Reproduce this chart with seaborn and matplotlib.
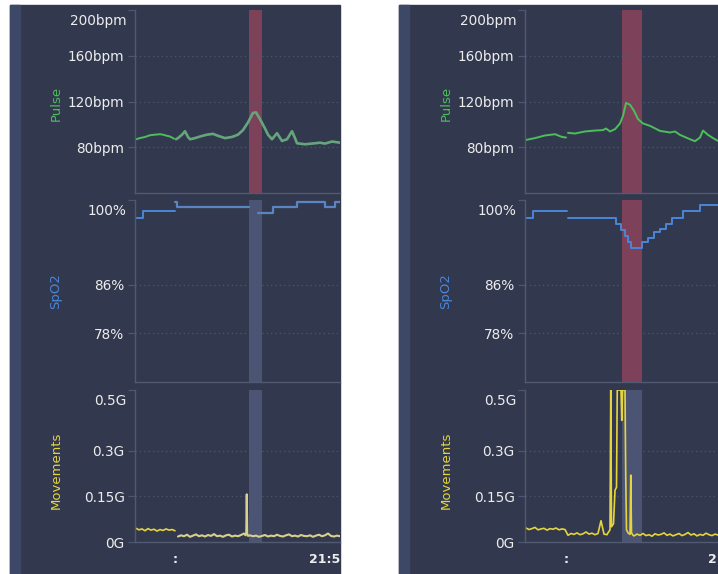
import numpy as np
import pandas as pd
import seaborn as sns
import matplotlib.pyplot as plt
from matplotlib.patches import Rectangle

sns.set_theme(style='dark')
plt.rcParams['font.family'] = 'DejaVu Sans'

# couleurs de l'appli
BG = '#32394e'
STRIP = '#3d4866'
SPINE = '#525a71'
GRID = '#4f5770'
TXT = '#ededed'
GREEN = '#4cbe5a'
GREEN_DIM = '#66a57c'
BLUE = '#4a86d8'
BLUE_DIM = '#5a84c2'
YELLOW = '#e6d43c'
YELLOW_DIM = '#d8d18e'
RED_BAND = '#7d4259'
GRAY_BAND = '#4b5472'

# temps en secondes depuis le bord gauche de chaque graphe
# ---- capture de gauche ----
pulse_l_t = [4, 20, 40, 60, 80, 100, 112, 128, 140, 156, 164, 172, 188, 200, 212,
             220, 240, 260, 288, 312, 332, 360, 388, 412, 432, 452, 472, 484, 500, 520,
             532, 548, 568, 588, 608, 628, 640, 648, 680, 720, 740, 760, 788, 820]
pulse_l_v = [87, 88, 89, 90.5, 91, 91.4, 91, 90, 89.4, 87.5, 87, 88, 91, 94, 89,
             87, 88, 89.4, 91, 91.7, 90, 88, 89, 91, 95, 101.7, 110, 110.5, 104.6, 96.4,
             91, 87, 92.3, 85.5, 87, 94, 88, 83.5, 82.6, 83.5, 84, 83.2, 85, 84]

spo2_l_t = [4, 32, 160, 166, 456, 492, 552, 648, 760, 800, 820]
spo2_l_v = [97.1, 98.2, 99.7, 98.8, np.nan, 97.8, 98.8, 99.6, 98.9, 99.6, 99.6]

mov_l_pre = [0.045, 0.040, 0.043, 0.037, 0.044, 0.039, 0.042, 0.036, 0.041, 0.038,
             0.043, 0.039, 0.041, 0.037,
             0.018, 0.022, 0.019, 0.024, 0.017, 0.021, 0.025, 0.019, 0.022, 0.018,
             0.023, 0.020, 0.026, 0.019, 0.021, 0.017, 0.022, 0.024, 0.018, 0.021,
             0.019, 0.023, 0.028]
mov_l_burst_t = [442, 445, 447, 449, 452]
mov_l_burst_v = [0.022, 0.03, 0.157, 0.028, 0.02]
mov_l_post = [0.022, 0.019, 0.021, 0.017, 0.020, 0.023, 0.018, 0.021, 0.019, 0.024,
              0.020, 0.018, 0.022, 0.025, 0.019, 0.021, 0.018, 0.023, 0.020, 0.019,
              0.022, 0.017, 0.021, 0.024, 0.019, 0.022, 0.028, 0.020, 0.018, 0.021, 0.019]

# ---- capture de droite ----
pulse_r_t = [4, 40, 80, 120, 148, 164, 168, 172, 200, 240, 280, 312, 324, 340, 360,
             380, 392, 404, 420, 436, 452, 472, 500, 540, 580, 600, 620, 660, 680, 700,
             712, 732, 752, 772]
pulse_r_v = [86.4, 88, 90.3, 91.4, 89, 88.5, np.nan, 92.6, 92, 93.8, 94.6, 95, 96.4, 93.8, 95.8,
             100.8, 107.5, 118.7, 117.2, 111.9, 104.6, 100.8, 98.7, 94.3, 92.9, 93.8, 90.8, 87, 85.3, 88.5,
             94.6, 90.8, 88, 85.5]

spo2_r_t = [4, 32, 168, 172, 364, 384, 400, 412, 424, 468, 492, 516, 540, 564, 588, 632, 700, 772]
spo2_r_v = [97.1, 98.2, np.nan, 97.1, 96.0, 95.0, 94.0, 93.0, 92.1, 93.0, 93.8, 94.7, 95.3,
            96.0, 97.1, 98.2, 99.2, 99.2]

mov_r_pre = [0.046, 0.041, 0.044, 0.048, 0.040, 0.043, 0.045, 0.039, 0.044, 0.042,
             0.046, 0.040, 0.043, 0.041,
             0.022, 0.028, 0.025, 0.030, 0.024, 0.027, 0.033, 0.026, 0.029, 0.024,
             0.028, 0.070, 0.026, 0.024]
mov_r_burst_t = [332, 340, 343, 346, 354, 360, 366, 369, 384, 387, 390, 400, 403, 406,
                 412, 420, 423, 426, 432]
mov_r_burst_v = [0.03, 0.04, 0.5, 0.05, 0.06, 0.17, 0.18, 0.5, 0.5, 0.40, 0.5, 0.5, 0.21, 0.04,
                 0.03, 0.025, 0.22, 0.03, 0.022]
mov_r_post = [0.020, 0.026, 0.022, 0.028, 0.021, 0.024, 0.019, 0.027, 0.023, 0.025,
              0.030, 0.022, 0.026, 0.020, 0.024, 0.028, 0.021, 0.025, 0.031, 0.023,
              0.027, 0.020, 0.025, 0.022, 0.029, 0.024, 0.021, 0.026, 0.023]

mov_l_t = np.r_[np.arange(4, 437, 12), mov_l_burst_t, np.arange(460, 821, 12)]
mov_l_v = np.r_[mov_l_pre, mov_l_burst_v, mov_l_post]
mov_r_t = np.r_[np.arange(4, 329, 12), mov_r_burst_t, np.arange(436, 773, 12)]
mov_r_v = np.r_[mov_r_pre, mov_r_burst_v, mov_r_post]

pulse_ticks, pulse_labels = [80, 120, 160, 200], ['80bpm', '120bpm', '160bpm', '200bpm']
spo2_ticks, spo2_labels = [78, 86, 100], ['78%', '86%', '100%']
mov_ticks, mov_labels = [0, 0.15, 0.3, 0.5], ['0G', '0.15G', '0.3G', '0.5G']

W, H = 718, 574
fig = plt.figure(figsize=(W / 100, H / 100), dpi=100)


def px_axes(x0, x1, y0, y1):
    return fig.add_axes([x0 / W, 1 - y1 / H, (x1 - x0) / W, (y1 - y0) / H])


def trace(ax, t, v, color, lw, steps=False):
    # coupe la courbe aux NaN
    t = np.asarray(t, float)
    v = np.asarray(v, float)
    start = 0
    for c in list(np.flatnonzero(np.isnan(v))) + [len(v)]:
        st, sv = t[start:c], v[start:c]
        if steps and c < len(v) and len(st):
            st, sv = np.r_[st, t[c]], np.r_[sv, sv[-1]]
        if len(st) > 1:
            sns.lineplot(x=st, y=sv, ax=ax, color=color, linewidth=lw, estimator=None,
                         sort=False, drawstyle='steps-post' if steps else 'default')
        start = c + 1


def style_axes(ax, ylim, ticks, labels, xmax, name, color, ypos):
    ax.set_facecolor('none')
    ax.set_xlim(0, xmax)
    ax.set_ylim(*ylim)
    ax.set_yticks(ticks, labels[:-1] + [''])
    ax.set_xticks([])
    ax.set_xlabel('')
    for y in ticks[:-1]:
        ax.axhline(y, color=GRID, lw=0.9, ls=(0, (1, 2.5)), zorder=1)
    ax.annotate(labels[-1], xy=(0, ticks[-1]), xycoords=('axes fraction', 'data'),
                xytext=(-6.1, -7.6), textcoords='offset points', ha='right', va='center',
                color=TXT, fontsize=9.8)
    ax.tick_params(axis='y', left=True, length=5, width=0.9, color=GRID,
                   labelcolor=TXT, labelsize=9.8, pad=2.5)
    for s in ['top', 'right']:
        ax.spines[s].set_visible(False)
    for s in ['left', 'bottom']:
        ax.spines[s].set_color(SPINE)
        ax.spines[s].set_linewidth(1)
    ax.set_ylabel(name, color=color, fontsize=9.5)
    w = ax.get_position().width * W
    ax.yaxis.set_label_coords(-79 / w, ypos)
    ax.yaxis.label.set_va('center')


# fonds des deux captures
for x0, x1 in [(10, 340), (399, 718)]:
    fig.add_artist(Rectangle((x0 / W, 0), (x1 - x0) / W, 1 - 5 / H,
                             transform=fig.transFigure, color=BG, zorder=-2))
    fig.add_artist(Rectangle((x0 / W, 0), 10 / W, 1 - 5 / H,
                             transform=fig.transFigure, color=STRIP, zorder=-1))

# ---- gauche ----
xl0, xl1, xmax_l = 135, 340, 820
band_l = (456, 508)
ax = px_axes(xl0, xl1, 10, 193)
ax.axvspan(*band_l, color=RED_BAND, lw=0, zorder=0.5)
pt, pv = np.array(pulse_l_t), np.array(pulse_l_v)
trace(ax, pt[pt < 162], pv[pt < 162], GREEN, 1.4)
trace(ax, pt[pt >= 162], pv[pt >= 162], GREEN_DIM, 1.9)
style_axes(ax, (40, 200), pulse_ticks, pulse_labels, xmax_l, 'Pulse', GREEN, 0.49)

ax = px_axes(xl0, xl1, 200, 382)
ax.axvspan(*band_l, color=GRAY_BAND, lw=0, zorder=0.5)
st, sv = np.array(spo2_l_t), np.array(spo2_l_v)
trace(ax, np.r_[st[st < 162], 160], np.r_[sv[st < 162][:-1], 98.2, 98.2], BLUE, 1.4, steps=True)
trace(ax, st[st >= 160], sv[st >= 160], BLUE_DIM, 1.6, steps=True)
style_axes(ax, (70, 100), spo2_ticks, spo2_labels, xmax_l, 'SpO2', BLUE, 0.5)

ax = px_axes(xl0, xl1, 390, 542)
ax.axvspan(*band_l, color=GRAY_BAND, lw=0, zorder=0.5)
trace(ax, mov_l_t[mov_l_t < 166], mov_l_v[mov_l_t < 166], YELLOW, 1.2)
trace(ax, mov_l_t[mov_l_t >= 166], mov_l_v[mov_l_t >= 166], YELLOW_DIM, 1.5)
style_axes(ax, (0, 0.5), mov_ticks, mov_labels, xmax_l, 'Movements', YELLOW, 0.47)
tr = ax.get_xaxis_transform()
ax.text(160, -0.118, ':', transform=tr, ha='center', va='center', color=TXT, fontsize=9, fontweight='bold')
ax.text(xmax_l, -0.118, '21:5', transform=tr, ha='right', va='center', color=TXT, fontsize=9, fontweight='bold')

# ---- droite ----
xr0, xr1, xmax_r = 525, 718, 772
band_r = (388, 468)
ax = px_axes(xr0, xr1, 10, 193)
ax.axvspan(*band_r, color=RED_BAND, lw=0, zorder=0.5)
trace(ax, pulse_r_t, pulse_r_v, GREEN, 1.4)
style_axes(ax, (40, 200), pulse_ticks, pulse_labels, xmax_r, 'Pulse', GREEN, 0.49)

ax = px_axes(xr0, xr1, 200, 382)
ax.axvspan(*band_r, color=RED_BAND, lw=0, zorder=0.5)
trace(ax, spo2_r_t, spo2_r_v, BLUE, 1.4, steps=True)
style_axes(ax, (70, 100), spo2_ticks, spo2_labels, xmax_r, 'SpO2', BLUE, 0.5)

ax = px_axes(xr0, xr1, 390, 542)
ax.axvspan(*band_r, color=GRAY_BAND, lw=0, zorder=0.5)
trace(ax, mov_r_t, mov_r_v, YELLOW, 1.2)
style_axes(ax, (0, 0.5), mov_ticks, mov_labels, xmax_r, 'Movements', YELLOW, 0.47)
tr = ax.get_xaxis_transform()
ax.text(164, -0.118, ':', transform=tr, ha='center', va='center', color=TXT, fontsize=9, fontweight='bold')
ax.text(732, -0.118, '2', transform=tr, ha='left', va='center', color=TXT, fontsize=9,
        fontweight='bold')

fig.savefig('out.png', dpi=100)
